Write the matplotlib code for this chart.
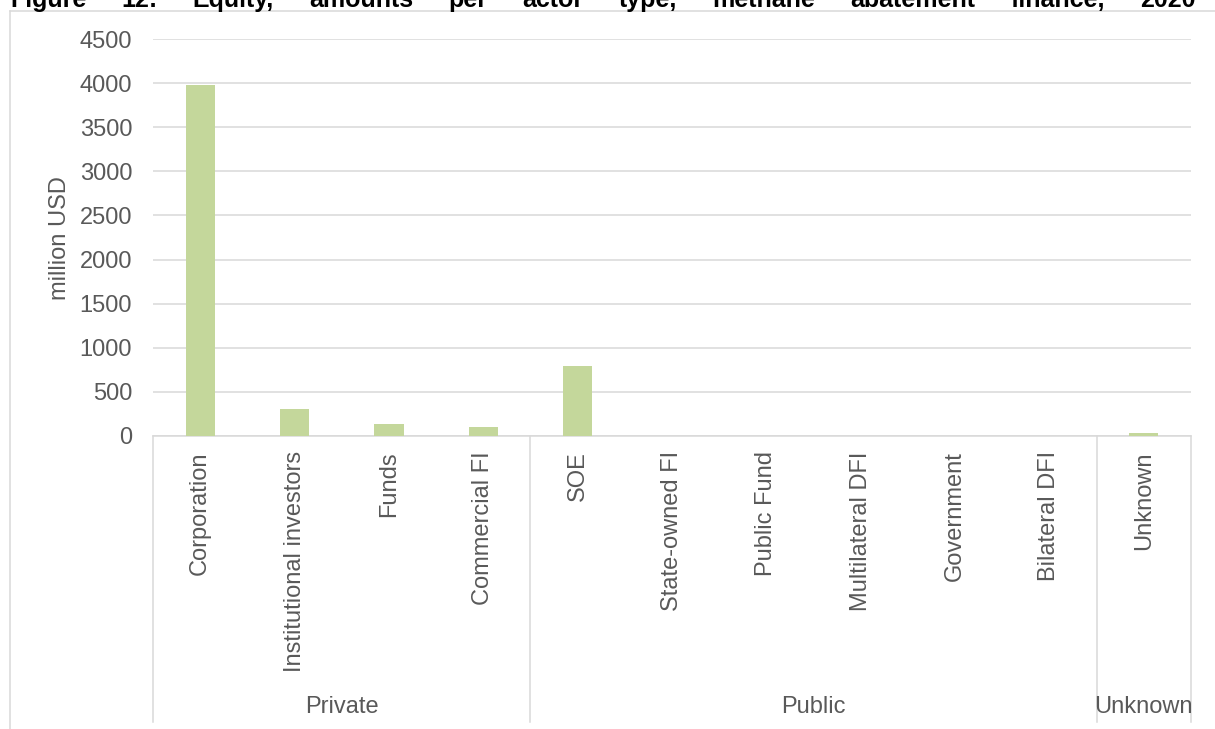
import numpy as np
import matplotlib
matplotlib.use('Agg')
import matplotlib.pyplot as plt
from matplotlib.lines import Line2D

#-------------------------------------------------------------------------------
# data: equity amounts per actor type (million USD)
actors = ['Corporation', 'Institutional investors', 'Funds', 'Commercial FI',
          'SOE', 'State-owned FI', 'Public Fund', 'Multilateral DFI',
          'Government', 'Bilateral DFI', 'Unknown']
amounts = [3980, 310, 135, 105, 795, 0, 0, 0, 0, 0, 30]
sectors = ['Private', 'Public', 'Unknown']
sector_sizes = [4, 6, 1]  # number of actor types in each sector
title = 'Figure 12: Equity, amounts per actor type, methane abatement finance, 2020'

#-------------------------------------------------------------------------------
# styling
TEXT = '#595959'
GRID = '#D9D9D9'
BAR = '#C4D79B'
FS = 17

plt.rcParams['font.family'] = ['Liberation Sans', 'DejaVu Sans']

W, H = 1215, 729
fig = plt.figure(figsize=(W / 100, H / 100), dpi=100)

# plot area in pixels
x0, x1 = 153, 1191
ytop, ybot = 39, 436
ax = fig.add_axes([x0 / W, 1 - ybot / H, (x1 - x0) / W, (ybot - ytop) / H])

x = np.arange(len(actors))
ax.bar(x, amounts, width=0.31, color=BAR, zorder=3)

ax.set_xlim(-0.5, len(actors) - 0.5)
ax.set_ylim(0, 4500)
ax.set_yticks(np.arange(0, 4501, 500))
ax.yaxis.grid(True, color=GRID, lw=1.1)
ax.set_axisbelow(True)
for s in ['top', 'right', 'left']:
    ax.spines[s].set_visible(False)
ax.spines['bottom'].set_color(GRID)
ax.spines['bottom'].set_linewidth(1.1)

ax.tick_params(axis='y', length=0, pad=15, labelsize=FS, labelcolor=TEXT)
ax.tick_params(axis='x', length=0, pad=11, labelsize=FS, labelcolor=TEXT)
ax.set_xticks(x)
ax.set_xticklabels(actors, rotation=90, va='top', ha='center')

fig.text(60 / W, 1 - 238 / H, 'million USD', rotation=90, ha='center',
         va='center', fontsize=FS, color=TEXT)

#-------------------------------------------------------------------------------
# second level of the category axis: sector groups
ph = ybot - ytop
trans = ax.get_xaxis_transform()
bounds = np.concatenate([[0], np.cumsum(sector_sizes)]) - 0.5
for b in bounds:
    ax.plot([b, b], [0, -(722 - ybot) / ph], transform=trans, clip_on=False,
            color=GRID, lw=1.1)
for name, lo, hi in zip(sectors, bounds[:-1], bounds[1:]):
    ax.text((lo + hi) / 2, -(707 - ybot) / ph, name, transform=trans,
            ha='center', va='center', fontsize=FS, color=TEXT)

# chart frame
fig.add_artist(Line2D([10.5 / W, 10.5 / W], [0, 1 - 11 / H],
                      transform=fig.transFigure, color=GRID, lw=1.1))
fig.add_artist(Line2D([10 / W, 1], [1 - 11 / H, 1 - 11 / H],
                      transform=fig.transFigure, color=GRID, lw=1.1))

#-------------------------------------------------------------------------------
# justified title, partly cut at the top edge
words = title.split()
renderer = fig.canvas.get_renderer()
txts = [fig.text(0, 1 - 7 / H, w, fontsize=18, fontweight='bold',
                 color='black', va='baseline') for w in words]
widths = [t.get_window_extent(renderer).width for t in txts]
left, last_start = 10, 1140
gap = (last_start - left - sum(widths[:-1])) / (len(words) - 1)
pos = left
for t, wd in zip(txts, widths):
    t.set_x(pos / W)
    pos += wd + gap

fig.savefig('out.png', dpi=100)
